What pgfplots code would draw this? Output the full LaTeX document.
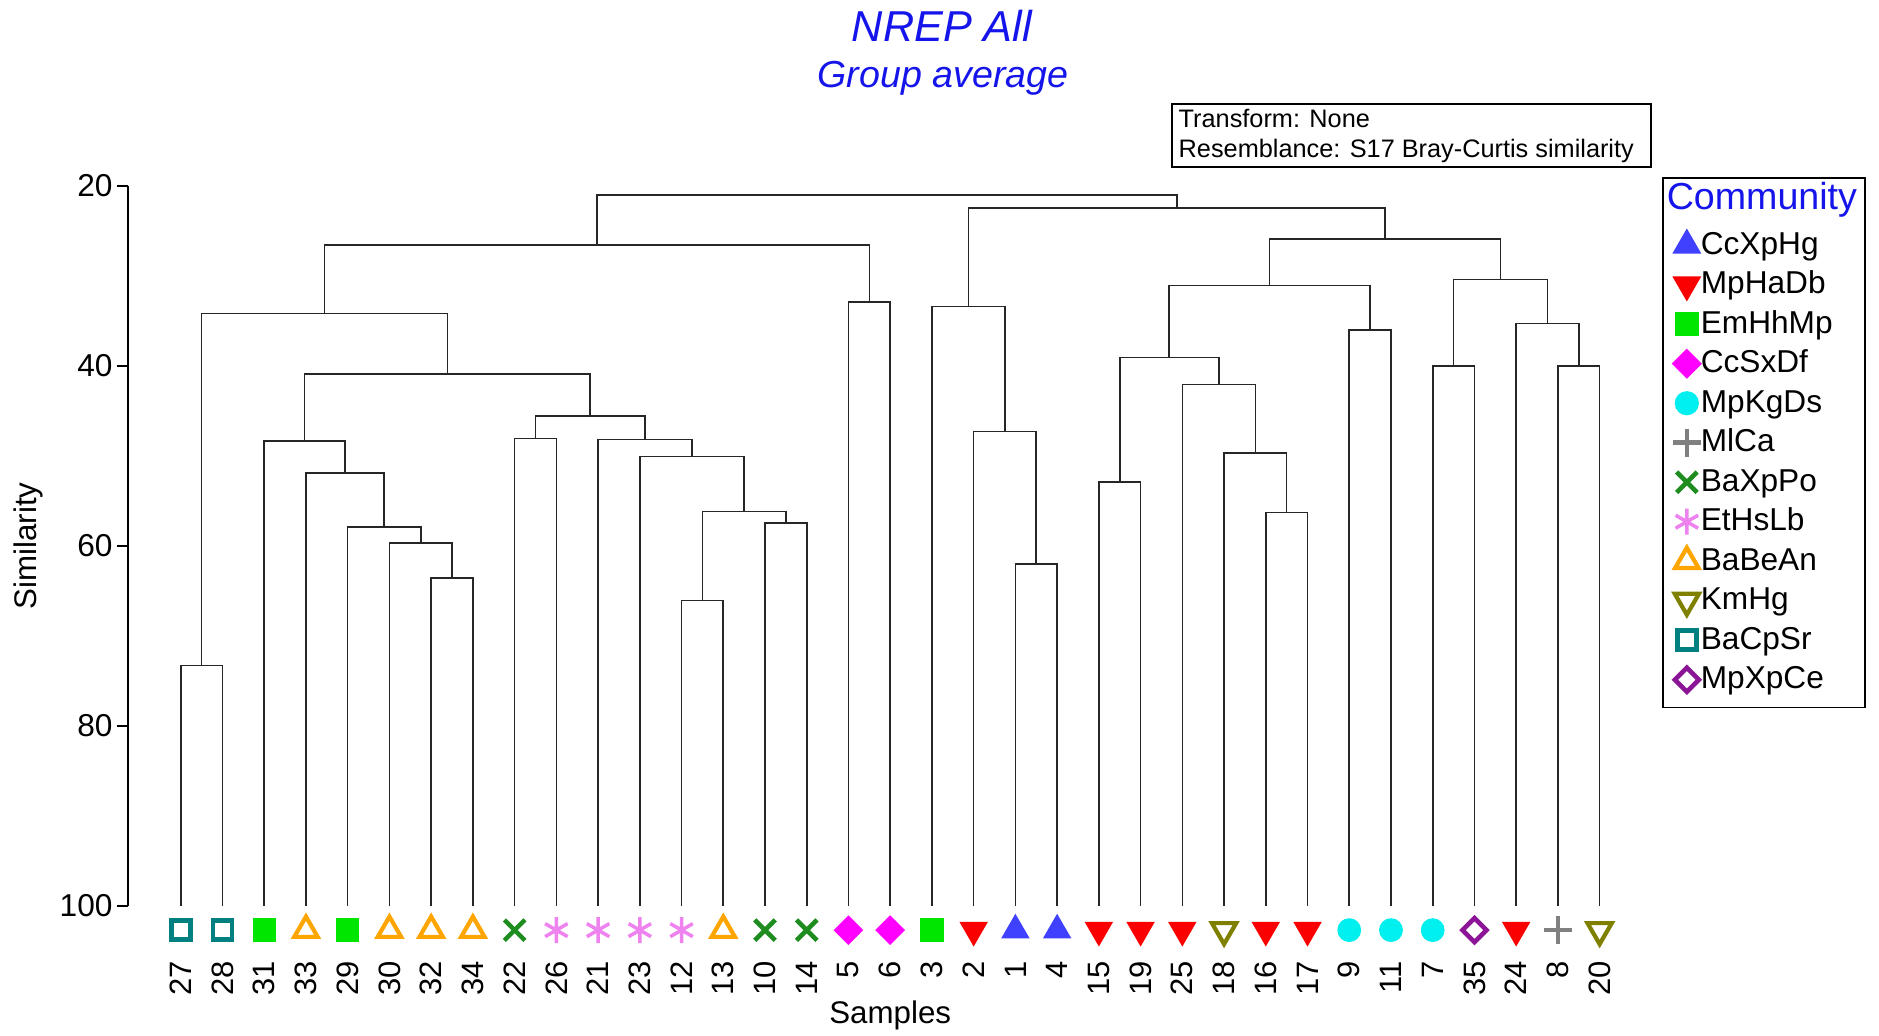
\documentclass[border=0pt]{standalone}
\usepackage{fontspec}
\setmainfont{Liberation Sans}
\usepackage{pgfplots}
\pgfplotsset{compat=1.18}
\definecolor{tblue}{RGB}{20,20,235}
\definecolor{cA}{RGB}{64,64,255}
\definecolor{cB}{RGB}{250,0,0}
\definecolor{cC}{RGB}{0,230,0}
\definecolor{cD}{RGB}{255,0,255}
\definecolor{cE}{RGB}{0,240,240}
\definecolor{cF}{RGB}{128,128,128}
\definecolor{cG}{RGB}{30,140,30}
\definecolor{cH}{RGB}{238,130,238}
\definecolor{cI}{RGB}{255,165,0}
\definecolor{cJ}{RGB}{128,128,0}
\definecolor{cK}{RGB}{0,128,128}
\definecolor{cL}{RGB}{140,20,150}
\pgfplotsset{
  dend/.style={black!85, line width=0.45pt, mark=none, forget plot},
  leaf/.style={only marks,
    legend image code/.code={\draw[mark repeat=2,mark phase=2,##1] plot coordinates {(0mm,0mm)(1.6mm,0mm)(3.2mm,0mm)};}},
}
\begin{document}
\begin{tikzpicture}
\path[use as bounding box] (-12.82mm,-12.92mm) rectangle (175.08mm,90.58mm);
\begin{axis}[
  name=ax, at={(0,0)}, anchor=south west,
  scale only axis, width=152.4mm, height=72.01mm,
  xmin=-1.26, xmax=35.26, ymin=20, ymax=100, y dir=reverse,
  clip=false,
  axis y line*=left, axis x line*=bottom,
  x axis line style={draw=none},
  y axis line style={-, line width=0.5pt, black},
  every outer y axis line/.append style={-},
  xtick={0,...,34},
  xticklabels={27,28,31,33,29,30,32,34,22,26,21,23,12,13,10,14,5,6,3,2,1,4,15,19,25,18,16,17,9,11,7,35,24,8,20},
  major x tick style={draw=none},
  xticklabel style={rotate=90, anchor=east, inner sep=0pt, font=\fontsize{8.8}{10}\selectfont},
  xticklabel shift=4.4mm,
  ytick={20,40,60,80,100},
  tick align=outside, major tick length=1.1mm,
  major y tick style={black, line width=0.5pt},
  yticklabel style={font=\fontsize{9}{10}\selectfont, inner sep=0.4mm},
  /pgf/number format/assume math mode=true,
  xlabel={Samples},
  xlabel style={at={(axis description cs:0.5,-0.1517)}, anchor=center, font=\fontsize{8.9}{10}\selectfont},
  ylabel={Similarity},
  ylabel style={at={(axis description cs:-0.0658,0.5)}, anchor=center, rotate=0, font=\fontsize{8.9}{10}\selectfont},
  legend cell align=left,
  legend style={at={(axis description cs:1.0064,1.012)}, anchor=north west,
    draw=black, line width=0.5pt, fill=white,
    font=\fontsize{9}{10}\selectfont, inner sep=0.8mm, row sep=0pt,
    nodes={inner sep=0pt, text height=2.9mm, text depth=1.05mm},
    /tikz/every even column/.append style={column sep=1.5mm}},
]
% ---- dendrogram merges ----
\addplot[dend] coordinates {(0,100)(0,73.3)(1,73.3)(1,100)};
\addplot[dend] coordinates {(6,100)(6,63.6)(7,63.6)(7,100)};
\addplot[dend] coordinates {(5,100)(5,59.7)(6.5,59.7)(6.5,63.6)};
\addplot[dend] coordinates {(4,100)(4,57.9)(5.75,57.9)(5.75,59.7)};
\addplot[dend] coordinates {(3,100)(3,51.9)(4.875,51.9)(4.875,57.9)};
\addplot[dend] coordinates {(2,100)(2,48.35)(3.9375,48.35)(3.9375,51.9)};
\addplot[dend] coordinates {(8,100)(8,48.1)(9,48.1)(9,100)};
\addplot[dend] coordinates {(12,100)(12,66.1)(13,66.1)(13,100)};
\addplot[dend] coordinates {(14,100)(14,57.5)(15,57.5)(15,100)};
\addplot[dend] coordinates {(12.5,66.1)(12.5,56.2)(14.5,56.2)(14.5,57.5)};
\addplot[dend] coordinates {(11,100)(11,50.1)(13.5,50.1)(13.5,56.2)};
\addplot[dend] coordinates {(10,100)(10,48.2)(12.25,48.2)(12.25,50.1)};
\addplot[dend] coordinates {(8.5,48.1)(8.5,45.6)(11.125,45.6)(11.125,48.2)};
\addplot[dend] coordinates {(2.96875,48.35)(2.96875,40.9)(9.8125,40.9)(9.8125,45.6)};
\addplot[dend] coordinates {(0.5,73.3)(0.5,34.2)(6.390625,34.2)(6.390625,40.9)};
\addplot[dend] coordinates {(16,100)(16,32.9)(17,32.9)(17,100)};
\addplot[dend] coordinates {(3.4453,34.2)(3.4453,26.6)(16.5,26.6)(16.5,32.9)};
\addplot[dend] coordinates {(20,100)(20,62.0)(21,62.0)(21,100)};
\addplot[dend] coordinates {(19,100)(19,47.3)(20.5,47.3)(20.5,62.0)};
\addplot[dend] coordinates {(18,100)(18,33.4)(19.75,33.4)(19.75,47.3)};
\addplot[dend] coordinates {(22,100)(22,52.9)(23,52.9)(23,100)};
\addplot[dend] coordinates {(26,100)(26,56.3)(27,56.3)(27,100)};
\addplot[dend] coordinates {(25,100)(25,49.7)(26.5,49.7)(26.5,56.3)};
\addplot[dend] coordinates {(24,100)(24,42.1)(25.75,42.1)(25.75,49.7)};
\addplot[dend] coordinates {(22.5,52.9)(22.5,39.1)(24.875,39.1)(24.875,42.1)};
\addplot[dend] coordinates {(28,100)(28,36.0)(29,36.0)(29,100)};
\addplot[dend] coordinates {(23.6875,39.1)(23.6875,31.1)(28.5,31.1)(28.5,36.0)};
\addplot[dend] coordinates {(30,100)(30,40.0)(31,40.0)(31,100)};
\addplot[dend] coordinates {(33,100)(33,40.0)(34,40.0)(34,100)};
\addplot[dend] coordinates {(32,100)(32,35.3)(33.5,35.3)(33.5,40.0)};
\addplot[dend] coordinates {(30.5,40.0)(30.5,30.4)(32.75,30.4)(32.75,35.3)};
\addplot[dend] coordinates {(26.09375,31.1)(26.09375,25.9)(31.625,25.9)(31.625,30.4)};
\addplot[dend] coordinates {(18.875,33.4)(18.875,22.5)(28.859375,22.5)(28.859375,25.9)};
\addplot[dend] coordinates {(9.9727,26.6)(9.9727,21.0)(23.8672,21.0)(23.8672,22.5)};
% ---- legend title ----
\addlegendimage{empty legend}
\addlegendentry{\raisebox{0.5mm}{\hspace*{-3.4mm}\fontsize{10.7}{12}\selectfont\textcolor{tblue}{Community}}}
% ---- leaf markers by community ----
\addplot[leaf, mark=triangle*, mark size=1.5mm, mark options={draw=cA, fill=cA}] coordinates {(20,102.7)(21,102.7)};
\addlegendentry{CcXpHg}
\addplot[leaf, mark=triangle*, mark size=1.5mm, mark options={draw=cB, fill=cB, rotate=180}] coordinates {(19,102.7)(22,102.7)(23,102.7)(24,102.7)(26,102.7)(27,102.7)(32,102.7)};
\addlegendentry{MpHaDb}
\addplot[leaf, mark=square*, mark size=1.1mm, mark options={draw=cC, fill=cC}] coordinates {(2,102.7)(4,102.7)(18,102.7)};
\addlegendentry{EmHhMp}
\addplot[leaf, mark=square*, mark size=0.98mm, mark options={draw=cD, fill=cD, rotate=45}] coordinates {(16,102.7)(17,102.7)};
\addlegendentry{CcSxDf}
\addplot[leaf, mark=*, mark size=1.12mm, mark options={draw=cE, fill=cE}] coordinates {(28,102.7)(29,102.7)(30,102.7)};
\addlegendentry{MpKgDs}
\addplot[leaf, mark=+, mark size=1.4mm, mark options={draw=cF, line width=1.3pt}] coordinates {(33,102.7)};
\addlegendentry{MlCa}
\addplot[leaf, mark=x, mark size=1.45mm, mark options={draw=cG, line width=1.3pt}] coordinates {(8,102.7)(14,102.7)(15,102.7)};
\addlegendentry{BaXpPo}
\addplot[leaf, mark=asterisk, mark size=1.3mm, mark options={draw=cH, line width=1.0pt}] coordinates {(9,102.7)(10,102.7)(11,102.7)(12,102.7)};
\addlegendentry{EtHsLb}
\addplot[leaf, mark=triangle, mark size=1.35mm, mark options={draw=cI, line width=1.2pt}] coordinates {(3,102.7)(5,102.7)(6,102.7)(7,102.7)(13,102.7)};
\addlegendentry{BaBeAn}
\addplot[leaf, mark=triangle, mark size=1.4mm, mark options={draw=cJ, line width=1.2pt, rotate=180}] coordinates {(25,102.7)(34,102.7)};
\addlegendentry{KmHg}
\addplot[leaf, mark=square, mark size=0.95mm, mark options={draw=cK, line width=1.3pt}] coordinates {(0,102.7)(1,102.7)};
\addlegendentry{BaCpSr}
\addplot[leaf, mark=square, mark size=0.85mm, mark options={draw=cL, line width=1.3pt, rotate=45}] coordinates {(31,102.7)};
\addlegendentry{MpXpCe}
\end{axis}
% ---- titles and info box ----
\node[font=\fontsize{12.3}{14}\selectfont\itshape, text=tblue] at (81.38mm,87.98mm) {NREP All};
\node[font=\fontsize{10.7}{12}\selectfont\itshape, text=tblue] at (81.48mm,82.78mm) {Group average};
\draw[line width=0.5pt] (104.38mm,80.18mm) rectangle (152.28mm,73.88mm);
\node[anchor=base west, inner sep=0pt, font=\fontsize{7.2}{8}\selectfont] at (104.98mm,77.82mm) {Transform: None};
\node[anchor=base west, inner sep=0pt, font=\fontsize{7.2}{8}\selectfont] at (104.98mm,74.82mm) {Resemblance: S17 Bray-Curtis similarity};
\end{tikzpicture}
\end{document}
